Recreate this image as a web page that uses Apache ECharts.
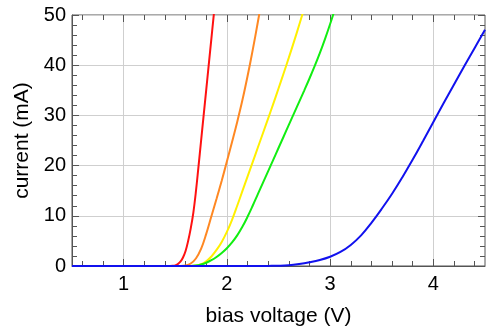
<!DOCTYPE html>
<html>
<head>
<meta charset="utf-8">
<script src="https://cdn.jsdelivr.net/npm/echarts@6/dist/echarts.min.js"></script>
<style>
  html, body { margin: 0; padding: 0; background: #fff; }
  #chart { width: 486px; height: 332px; }
</style>
</head>
<body>
<div id="chart"></div>
<script>
// tick positions
const xMajorTicks = [1, 2, 3, 4];
const xMinorTicks = [0.6, 0.8, 1.2, 1.4, 1.6, 1.8, 2.2, 2.4, 2.6, 2.8, 3.2, 3.4, 3.6, 3.8, 4.2, 4.4];

// bias voltage (V) / current (mA)
const redV = [0.5, 1.45, 1.475, 1.5, 1.525, 1.55, 1.575, 1.6, 1.625, 1.65, 1.675, 1.7, 1.725, 1.75, 1.775, 1.8, 1.825, 1.85, 1.875];
const redI = [0, 0, 0.03, 0.12, 0.4, 0.85, 1.7, 3.0, 5.0, 7.5, 10.6, 14.8, 19.8, 24.9, 30, 35.1, 40.2, 45.3, 50.4];

const orangeV = [0.5, 1.55, 1.6, 1.65, 1.7, 1.75, 1.8, 1.85, 1.9, 1.95, 2.0, 2.05, 2.1, 2.15, 2.2, 2.25, 2.3, 2.35];
const orangeI = [0, 0, 0.1, 0.5, 1.5, 3.4, 6.4, 9.9, 13.4, 17.0, 20.8, 24.7, 28.7, 33.0, 37.8, 43.0, 48.6, 54.4];

const yellowV = [0.5, 1.65, 1.7, 1.75, 1.8, 1.85, 1.9, 1.95, 2.0, 2.05, 2.1, 2.15, 2.2, 2.25, 2.3, 2.35, 2.4, 2.45, 2.5, 2.55, 2.6, 2.65, 2.7, 2.75];
const yellowI = [0, 0, 0.08, 0.35, 0.95, 1.9, 3.2, 4.8, 6.8, 9.2, 12.0, 14.9, 17.8, 20.7, 23.6, 26.5, 29.4, 32.35, 35.35, 38.4, 41.5, 44.7, 48.0, 51.4];

const greenV = [0.5, 1.65, 1.7, 1.75, 1.8, 1.85, 1.9, 1.95, 2.0, 2.05, 2.1, 2.15, 2.2, 2.25, 2.3, 2.35, 2.4, 2.45, 2.5, 2.55, 2.6, 2.65, 2.7, 2.75, 2.8, 2.85, 2.9, 2.95, 3.0, 3.05];
const greenI = [0, 0, 0.08, 0.3, 0.65, 1.15, 1.8, 2.6, 3.55, 4.7, 6.1, 7.8, 9.8, 12.0, 14.3, 16.6, 18.9, 21.2, 23.5, 25.8, 28.1, 30.4, 32.7, 35.0, 37.35, 39.8, 42.4, 45.2, 48.2, 51.4];

const blueV = [0.5, 2.3, 2.4, 2.5, 2.6, 2.7, 2.8, 2.9, 3.0, 3.1, 3.2, 3.3, 3.4, 3.5, 3.6, 3.7, 3.8, 3.9, 4.0, 4.1, 4.2, 4.3, 4.4, 4.5];
const blueI = [0, 0, 0.02, 0.05, 0.15, 0.4, 0.75, 1.2, 1.85, 2.8, 4.2, 6.1, 8.6, 11.4, 14.4, 17.7, 21.2, 24.9, 28.7, 32.45, 36.15, 39.85, 43.45, 47.05];

const pairs = (xs, ys) => xs.map((x, i) => [x, ys[i]]);

const frameColor = '#555';
const gridColor = '#cfcfcf';
const font = 'Liberation Sans, Arial, sans-serif';

// extra axes only carry the inward ticks of the frame
const tickAxisX = (position, values, len) => ({
    type: 'value', position: position, min: 0.5, max: 4.5,
    axisLine: { show: false, onZero: false },
    axisLabel: { show: false, customValues: values },
    axisTick: { show: true, inside: true, length: len, customValues: values, lineStyle: { color: frameColor } },
    splitLine: { show: false }
});

const lineSeries = (name, xs, ys, color) => ({
    name: name,
    type: 'line',
    data: pairs(xs, ys),
    showSymbol: false,
    smooth: 0.4,
    lineStyle: { color: color, width: 2 },
    itemStyle: { color: color },
    xAxisIndex: 0,
    yAxisIndex: 0
});

const chart = echarts.init(document.getElementById('chart'));
chart.setOption({
    animation: false,
    grid: {
        left: 72, right: 1, top: 15, bottom: 61,
        show: true, borderColor: frameColor, borderWidth: 1, backgroundColor: 'transparent'
    },
    xAxis: [
        {
            type: 'value', position: 'bottom', min: 0.5, max: 4.5,
            name: 'bias voltage (V)', nameLocation: 'middle', nameGap: 40,
            nameTextStyle: { fontFamily: font, fontSize: 21, color: '#000' },
            axisLine: { show: true, onZero: false, lineStyle: { color: frameColor } },
            axisTick: { show: true, inside: true, length: 7, customValues: xMajorTicks, lineStyle: { color: frameColor } },
            axisLabel: { customValues: xMajorTicks, fontFamily: font, fontSize: 20, color: '#000', margin: 8 },
            splitLine: { show: true, lineStyle: { color: gridColor, width: 1 } }
        },
        tickAxisX('bottom', xMinorTicks, 5),
        tickAxisX('top', xMajorTicks, 7),
        tickAxisX('top', xMinorTicks, 5)
    ],
    yAxis: [
        {
            type: 'value', position: 'left', min: 0, max: 50, interval: 10,
            name: 'current (mA)', nameLocation: 'middle', nameGap: 32,
            nameTextStyle: { fontFamily: font, fontSize: 21, color: '#000' },
            axisLine: { show: true, onZero: false, lineStyle: { color: frameColor } },
            axisTick: { show: true, inside: true, length: 7, lineStyle: { color: frameColor } },
            minorTick: { show: true, splitNumber: 5, length: 5, lineStyle: { color: frameColor } },
            axisLabel: { fontFamily: font, fontSize: 20, color: '#000', margin: 6 },
            splitLine: { show: true, lineStyle: { color: gridColor, width: 1 } }
        },
        {
            type: 'value', position: 'right', min: 0, max: 50, interval: 10,
            axisLine: { show: false, onZero: false },
            axisTick: { show: true, inside: true, length: 7, lineStyle: { color: frameColor } },
            minorTick: { show: true, splitNumber: 5, length: 5, lineStyle: { color: frameColor } },
            axisLabel: { show: false },
            splitLine: { show: false }
        }
    ],
    series: [
        lineSeries('red', redV, redI, '#ff1111'),
        lineSeries('orange', orangeV, orangeI, '#ff8822'),
        lineSeries('yellow', yellowV, yellowI, '#fff000'),
        lineSeries('green', greenV, greenI, '#11ee11'),
        lineSeries('blue', blueV, blueI, '#1111ee')
    ]
});
</script>
</body>
</html>
